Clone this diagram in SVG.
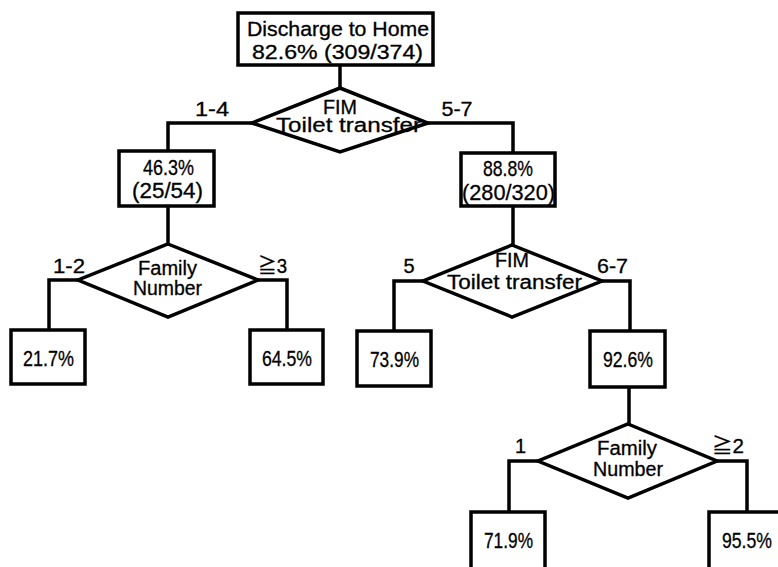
<svg xmlns="http://www.w3.org/2000/svg" width="778" height="567" viewBox="0 0 778 567">
<style>
.b{fill:#fff;stroke:#000;stroke-width:3.5}
.c{fill:none;stroke:#000;stroke-width:3.5;stroke-linejoin:miter}
text{font-family:"Liberation Sans","Noto Sans CJK JP",sans-serif;font-size:20px;fill:#000;stroke:#000;stroke-width:0.3;text-anchor:middle}
.big{font-size:22px}
</style>
<rect width="778" height="567" fill="#fff"/>
<g id="connectors">
<polyline class="c" points="340,65 340,89"/>
<polyline class="c" points="252,123 168,123 168,150"/>
<polyline class="c" points="428,123 513,123 513,152"/>
<polyline class="c" points="168,207 168,245"/>
<polyline class="c" points="513,207 513,246"/>
<polyline class="c" points="78,280 49,280 49,329"/>
<polyline class="c" points="258,280 287,280 287,329"/>
<polyline class="c" points="423,281 394,281 394,330"/>
<polyline class="c" points="602,281 630,281 630,330"/>
<polyline class="c" points="629,388 629,425"/>
<polyline class="c" points="538,461 509,461 509,511"/>
<polyline class="c" points="717,461 747,461 747,511"/>
<text x="212" y="116" textLength="34" lengthAdjust="spacingAndGlyphs">1-4</text>
<text x="457" y="116" textLength="31" lengthAdjust="spacingAndGlyphs">5-7</text>
<text x="69" y="273" textLength="32" lengthAdjust="spacingAndGlyphs">1-2</text>
<text x="272.5" y="273" textLength="29" lengthAdjust="spacingAndGlyphs">≧3</text>
<text x="409" y="273">5</text>
<text x="612.5" y="273" textLength="31" lengthAdjust="spacingAndGlyphs">6-7</text>
<text x="520.5" y="453">1</text>
<text x="728" y="453" textLength="32" lengthAdjust="spacingAndGlyphs">≧2</text>
</g>
<g id="root">
<rect class="b" x="238" y="13" width="195" height="52"/>
<text x="338" y="36" font-size="21" textLength="182" lengthAdjust="spacingAndGlyphs">Discharge to Home</text>
<text x="337.5" y="59" font-size="21" textLength="171" lengthAdjust="spacingAndGlyphs">82.6% (309/374)</text>
</g>
<g id="split1">
<polygon class="b" points="340,88 428,123 340,152 252,123"/>
<text x="340" y="114" textLength="34" lengthAdjust="spacingAndGlyphs">FIM</text>
<text x="348.5" y="132" textLength="145" lengthAdjust="spacingAndGlyphs">Toilet transfer</text>
</g>
<g id="node-left">
<rect class="b" x="119" y="151" width="95" height="55"/>
<text class="big" x="168.5" y="175" textLength="51" lengthAdjust="spacingAndGlyphs">46.3%</text>
<text class="big" x="167.5" y="198" textLength="71" lengthAdjust="spacingAndGlyphs">(25/54)</text>
</g>
<g id="node-right">
<rect class="b" x="461" y="153" width="94" height="53"/>
<text class="big" x="508" y="176" textLength="50" lengthAdjust="spacingAndGlyphs">88.8%</text>
<text class="big" x="508.5" y="200" textLength="93" lengthAdjust="spacingAndGlyphs">(280/320)</text>
</g>
<g id="split-left">
<polygon class="b" points="168,244 258,280 168,317 78,280"/>
<text x="167.5" y="275" textLength="59" lengthAdjust="spacingAndGlyphs">Family</text>
<text x="167.5" y="295" textLength="69" lengthAdjust="spacingAndGlyphs">Number</text>
</g>
<g id="leaf-217">
<rect class="b" x="11" y="330" width="74" height="54"/>
<text class="big" x="48.5" y="366" textLength="51" lengthAdjust="spacingAndGlyphs">21.7%</text>
</g>
<g id="leaf-645">
<rect class="b" x="250" y="330" width="73" height="54"/>
<text class="big" x="287" y="366" textLength="50" lengthAdjust="spacingAndGlyphs">64.5%</text>
</g>
<g id="split-right">
<polygon class="b" points="512,245 602,281 512,317 423,281"/>
<text x="512" y="267" textLength="34" lengthAdjust="spacingAndGlyphs">FIM</text>
<text x="514.5" y="289" textLength="135" lengthAdjust="spacingAndGlyphs">Toilet transfer</text>
</g>
<g id="leaf-739">
<rect class="b" x="357" y="331" width="74" height="55"/>
<text class="big" x="394.5" y="367" textLength="49" lengthAdjust="spacingAndGlyphs">73.9%</text>
</g>
<g id="node-926">
<rect class="b" x="590" y="331" width="75" height="56"/>
<text class="big" x="628" y="367" textLength="50" lengthAdjust="spacingAndGlyphs">92.6%</text>
</g>
<g id="split-bottom">
<polygon class="b" points="628,424 717,461 628,498 538,461"/>
<text x="627" y="455" textLength="60" lengthAdjust="spacingAndGlyphs">Family</text>
<text x="628" y="476" textLength="70" lengthAdjust="spacingAndGlyphs">Number</text>
</g>
<g id="leaf-719">
<rect class="b" x="471" y="512" width="74" height="70"/>
<text class="big" x="508.5" y="548" textLength="49" lengthAdjust="spacingAndGlyphs">71.9%</text>
</g>
<g id="leaf-955">
<rect class="b" x="709" y="512" width="74" height="70"/>
<text class="big" x="747" y="548" textLength="50" lengthAdjust="spacingAndGlyphs">95.5%</text>
</g>
</svg>
